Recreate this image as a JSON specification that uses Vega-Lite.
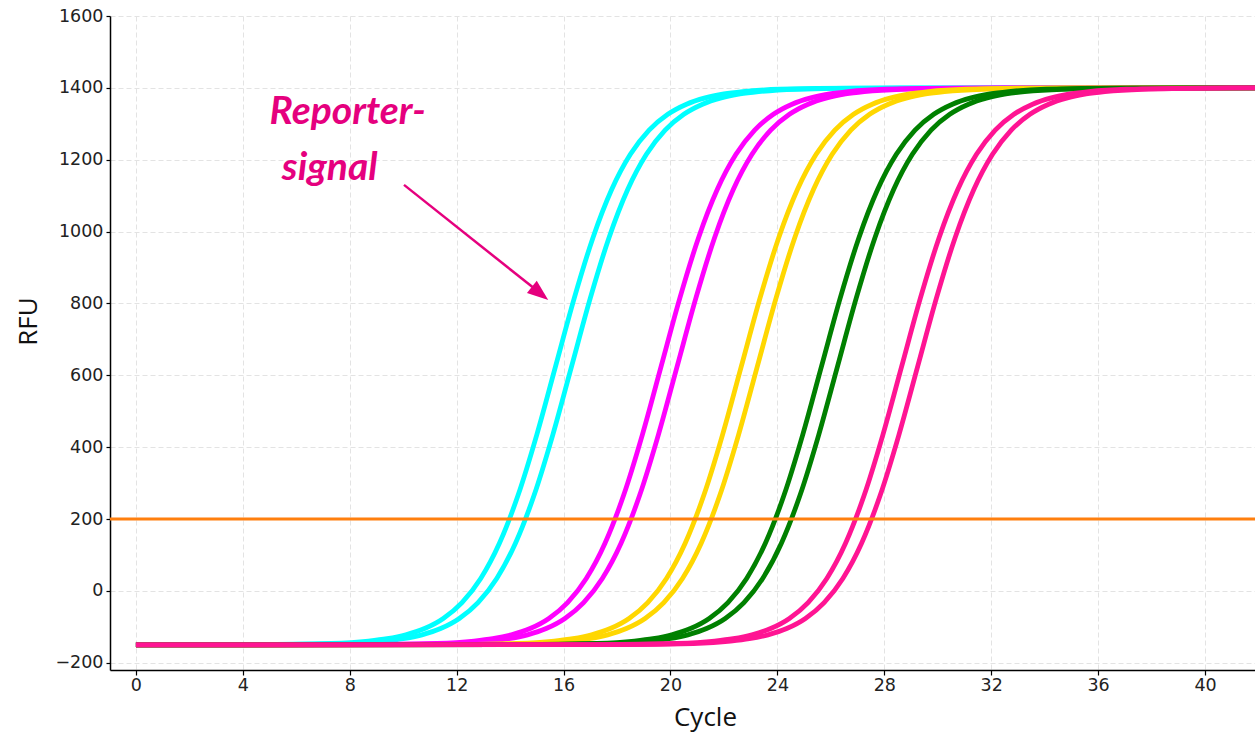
{
  "$schema": "https://vega.github.io/schema/vega-lite/v6.json",
  "width": 1145,
  "height": 654,
  "autosize": {"type": "none"},
  "padding": {"left": 110, "top": 16, "right": 0, "bottom": 65},
  "background": "white",
  "config": {
    "view": {"stroke": null},
    "axis": {
      "domainColor": "#000000",
      "domainWidth": 1.5,
      "tickColor": "#000000",
      "tickWidth": 1.2,
      "labelFont": "DejaVu Sans",
      "labelFontSize": 17.5,
      "labelColor": "#222222",
      "titleFont": "Open Sans",
      "titleFontSize": 26,
      "titleFontWeight": "normal",
      "titleColor": "#111111",
      "gridColor": "#e3e3e3",
      "gridDash": [5, 3],
      "gridWidth": 1
    }
  },
  "datasets": {
    "curves": [
      {"s":"s01","cycle":0,"rfu":-150},{"s":"s01","cycle":4.5,"rfu":-149.5},{"s":"s01","cycle":7.3,"rfu":-146.2},{"s":"s01","cycle":8.7,"rfu":-139.6},{"s":"s01","cycle":9.4,"rfu":-133},{"s":"s01","cycle":10.1,"rfu":-122.1},{"s":"s01","cycle":10.8,"rfu":-104.6},{"s":"s01","cycle":11.5,"rfu":-76.5},{"s":"s01","cycle":12.2,"rfu":-32.4},{"s":"s01","cycle":12.9,"rfu":34.8},{"s":"s01","cycle":13.6,"rfu":132.8},{"s":"s01","cycle":14.3,"rfu":266.9},{"s":"s01","cycle":15.0,"rfu":435.2},{"s":"s01","cycle":15.7,"rfu":625},{"s":"s01","cycle":16.4,"rfu":814.8},{"s":"s01","cycle":17.1,"rfu":983.1},{"s":"s01","cycle":17.8,"rfu":1117.2},{"s":"s01","cycle":18.5,"rfu":1215.2},{"s":"s01","cycle":19.2,"rfu":1282.4},{"s":"s01","cycle":19.9,"rfu":1326.5},{"s":"s01","cycle":20.6,"rfu":1354.6},{"s":"s01","cycle":21.3,"rfu":1372.1},{"s":"s01","cycle":22.0,"rfu":1383},{"s":"s01","cycle":22.7,"rfu":1389.6},{"s":"s01","cycle":24.1,"rfu":1396.2},{"s":"s01","cycle":26.9,"rfu":1399.5},{"s":"s01","cycle":42,"rfu":1400},
      {"s":"s02","cycle":0,"rfu":-150},{"s":"s02","cycle":5.1,"rfu":-149.5},{"s":"s02","cycle":7.9,"rfu":-146.2},{"s":"s02","cycle":9.3,"rfu":-139.6},{"s":"s02","cycle":10.0,"rfu":-133},{"s":"s02","cycle":10.7,"rfu":-122.1},{"s":"s02","cycle":11.4,"rfu":-104.6},{"s":"s02","cycle":12.1,"rfu":-76.5},{"s":"s02","cycle":12.8,"rfu":-32.4},{"s":"s02","cycle":13.5,"rfu":34.8},{"s":"s02","cycle":14.2,"rfu":132.8},{"s":"s02","cycle":14.9,"rfu":266.9},{"s":"s02","cycle":15.6,"rfu":435.2},{"s":"s02","cycle":16.3,"rfu":625},{"s":"s02","cycle":17.0,"rfu":814.8},{"s":"s02","cycle":17.7,"rfu":983.1},{"s":"s02","cycle":18.4,"rfu":1117.2},{"s":"s02","cycle":19.1,"rfu":1215.2},{"s":"s02","cycle":19.8,"rfu":1282.4},{"s":"s02","cycle":20.5,"rfu":1326.5},{"s":"s02","cycle":21.2,"rfu":1354.6},{"s":"s02","cycle":21.9,"rfu":1372.1},{"s":"s02","cycle":22.6,"rfu":1383},{"s":"s02","cycle":23.3,"rfu":1389.6},{"s":"s02","cycle":24.7,"rfu":1396.2},{"s":"s02","cycle":27.5,"rfu":1399.5},{"s":"s02","cycle":42,"rfu":1400},
      {"s":"s03","cycle":0,"rfu":-150},{"s":"s03","cycle":8.45,"rfu":-149.5},{"s":"s03","cycle":11.25,"rfu":-146.2},{"s":"s03","cycle":12.65,"rfu":-139.6},{"s":"s03","cycle":13.35,"rfu":-133},{"s":"s03","cycle":14.05,"rfu":-122.1},{"s":"s03","cycle":14.75,"rfu":-104.6},{"s":"s03","cycle":15.45,"rfu":-76.5},{"s":"s03","cycle":16.15,"rfu":-32.4},{"s":"s03","cycle":16.85,"rfu":34.8},{"s":"s03","cycle":17.55,"rfu":132.8},{"s":"s03","cycle":18.25,"rfu":266.9},{"s":"s03","cycle":18.95,"rfu":435.2},{"s":"s03","cycle":19.65,"rfu":625},{"s":"s03","cycle":20.35,"rfu":814.8},{"s":"s03","cycle":21.05,"rfu":983.1},{"s":"s03","cycle":21.75,"rfu":1117.2},{"s":"s03","cycle":22.45,"rfu":1215.2},{"s":"s03","cycle":23.15,"rfu":1282.4},{"s":"s03","cycle":23.85,"rfu":1326.5},{"s":"s03","cycle":24.55,"rfu":1354.6},{"s":"s03","cycle":25.25,"rfu":1372.1},{"s":"s03","cycle":25.95,"rfu":1383},{"s":"s03","cycle":26.65,"rfu":1389.6},{"s":"s03","cycle":28.05,"rfu":1396.2},{"s":"s03","cycle":30.85,"rfu":1399.5},{"s":"s03","cycle":42,"rfu":1400},
      {"s":"s04","cycle":0,"rfu":-150},{"s":"s04","cycle":9.05,"rfu":-149.5},{"s":"s04","cycle":11.85,"rfu":-146.2},{"s":"s04","cycle":13.25,"rfu":-139.6},{"s":"s04","cycle":13.95,"rfu":-133},{"s":"s04","cycle":14.65,"rfu":-122.1},{"s":"s04","cycle":15.35,"rfu":-104.6},{"s":"s04","cycle":16.05,"rfu":-76.5},{"s":"s04","cycle":16.75,"rfu":-32.4},{"s":"s04","cycle":17.45,"rfu":34.8},{"s":"s04","cycle":18.15,"rfu":132.8},{"s":"s04","cycle":18.85,"rfu":266.9},{"s":"s04","cycle":19.55,"rfu":435.2},{"s":"s04","cycle":20.25,"rfu":625},{"s":"s04","cycle":20.95,"rfu":814.8},{"s":"s04","cycle":21.65,"rfu":983.1},{"s":"s04","cycle":22.35,"rfu":1117.2},{"s":"s04","cycle":23.05,"rfu":1215.2},{"s":"s04","cycle":23.75,"rfu":1282.4},{"s":"s04","cycle":24.45,"rfu":1326.5},{"s":"s04","cycle":25.15,"rfu":1354.6},{"s":"s04","cycle":25.85,"rfu":1372.1},{"s":"s04","cycle":26.55,"rfu":1383},{"s":"s04","cycle":27.25,"rfu":1389.6},{"s":"s04","cycle":28.65,"rfu":1396.2},{"s":"s04","cycle":31.45,"rfu":1399.5},{"s":"s04","cycle":42,"rfu":1400},
      {"s":"s05","cycle":0,"rfu":-150},{"s":"s05","cycle":11.45,"rfu":-149.5},{"s":"s05","cycle":14.25,"rfu":-146.2},{"s":"s05","cycle":15.65,"rfu":-139.6},{"s":"s05","cycle":16.35,"rfu":-133},{"s":"s05","cycle":17.05,"rfu":-122.1},{"s":"s05","cycle":17.75,"rfu":-104.6},{"s":"s05","cycle":18.45,"rfu":-76.5},{"s":"s05","cycle":19.15,"rfu":-32.4},{"s":"s05","cycle":19.85,"rfu":34.8},{"s":"s05","cycle":20.55,"rfu":132.8},{"s":"s05","cycle":21.25,"rfu":266.9},{"s":"s05","cycle":21.95,"rfu":435.2},{"s":"s05","cycle":22.65,"rfu":625},{"s":"s05","cycle":23.35,"rfu":814.8},{"s":"s05","cycle":24.05,"rfu":983.1},{"s":"s05","cycle":24.75,"rfu":1117.2},{"s":"s05","cycle":25.45,"rfu":1215.2},{"s":"s05","cycle":26.15,"rfu":1282.4},{"s":"s05","cycle":26.85,"rfu":1326.5},{"s":"s05","cycle":27.55,"rfu":1354.6},{"s":"s05","cycle":28.25,"rfu":1372.1},{"s":"s05","cycle":28.95,"rfu":1383},{"s":"s05","cycle":29.65,"rfu":1389.6},{"s":"s05","cycle":31.05,"rfu":1396.2},{"s":"s05","cycle":33.85,"rfu":1399.5},{"s":"s05","cycle":42,"rfu":1400},
      {"s":"s06","cycle":0,"rfu":-150},{"s":"s06","cycle":12.05,"rfu":-149.5},{"s":"s06","cycle":14.85,"rfu":-146.2},{"s":"s06","cycle":16.25,"rfu":-139.6},{"s":"s06","cycle":16.95,"rfu":-133},{"s":"s06","cycle":17.65,"rfu":-122.1},{"s":"s06","cycle":18.35,"rfu":-104.6},{"s":"s06","cycle":19.05,"rfu":-76.5},{"s":"s06","cycle":19.75,"rfu":-32.4},{"s":"s06","cycle":20.45,"rfu":34.8},{"s":"s06","cycle":21.15,"rfu":132.8},{"s":"s06","cycle":21.85,"rfu":266.9},{"s":"s06","cycle":22.55,"rfu":435.2},{"s":"s06","cycle":23.25,"rfu":625},{"s":"s06","cycle":23.95,"rfu":814.8},{"s":"s06","cycle":24.65,"rfu":983.1},{"s":"s06","cycle":25.35,"rfu":1117.2},{"s":"s06","cycle":26.05,"rfu":1215.2},{"s":"s06","cycle":26.75,"rfu":1282.4},{"s":"s06","cycle":27.45,"rfu":1326.5},{"s":"s06","cycle":28.15,"rfu":1354.6},{"s":"s06","cycle":28.85,"rfu":1372.1},{"s":"s06","cycle":29.55,"rfu":1383},{"s":"s06","cycle":30.25,"rfu":1389.6},{"s":"s06","cycle":31.65,"rfu":1396.2},{"s":"s06","cycle":34.45,"rfu":1399.5},{"s":"s06","cycle":42,"rfu":1400},
      {"s":"s07","cycle":0,"rfu":-150},{"s":"s07","cycle":14.45,"rfu":-149.5},{"s":"s07","cycle":17.25,"rfu":-146.2},{"s":"s07","cycle":18.65,"rfu":-139.6},{"s":"s07","cycle":19.35,"rfu":-133},{"s":"s07","cycle":20.05,"rfu":-122.1},{"s":"s07","cycle":20.75,"rfu":-104.6},{"s":"s07","cycle":21.45,"rfu":-76.5},{"s":"s07","cycle":22.15,"rfu":-32.4},{"s":"s07","cycle":22.85,"rfu":34.8},{"s":"s07","cycle":23.55,"rfu":132.8},{"s":"s07","cycle":24.25,"rfu":266.9},{"s":"s07","cycle":24.95,"rfu":435.2},{"s":"s07","cycle":25.65,"rfu":625},{"s":"s07","cycle":26.35,"rfu":814.8},{"s":"s07","cycle":27.05,"rfu":983.1},{"s":"s07","cycle":27.75,"rfu":1117.2},{"s":"s07","cycle":28.45,"rfu":1215.2},{"s":"s07","cycle":29.15,"rfu":1282.4},{"s":"s07","cycle":29.85,"rfu":1326.5},{"s":"s07","cycle":30.55,"rfu":1354.6},{"s":"s07","cycle":31.25,"rfu":1372.1},{"s":"s07","cycle":31.95,"rfu":1383},{"s":"s07","cycle":32.65,"rfu":1389.6},{"s":"s07","cycle":34.05,"rfu":1396.2},{"s":"s07","cycle":36.85,"rfu":1399.5},{"s":"s07","cycle":42,"rfu":1400},
      {"s":"s08","cycle":0,"rfu":-150},{"s":"s08","cycle":15.05,"rfu":-149.5},{"s":"s08","cycle":17.85,"rfu":-146.2},{"s":"s08","cycle":19.25,"rfu":-139.6},{"s":"s08","cycle":19.95,"rfu":-133},{"s":"s08","cycle":20.65,"rfu":-122.1},{"s":"s08","cycle":21.35,"rfu":-104.6},{"s":"s08","cycle":22.05,"rfu":-76.5},{"s":"s08","cycle":22.75,"rfu":-32.4},{"s":"s08","cycle":23.45,"rfu":34.8},{"s":"s08","cycle":24.15,"rfu":132.8},{"s":"s08","cycle":24.85,"rfu":266.9},{"s":"s08","cycle":25.55,"rfu":435.2},{"s":"s08","cycle":26.25,"rfu":625},{"s":"s08","cycle":26.95,"rfu":814.8},{"s":"s08","cycle":27.65,"rfu":983.1},{"s":"s08","cycle":28.35,"rfu":1117.2},{"s":"s08","cycle":29.05,"rfu":1215.2},{"s":"s08","cycle":29.75,"rfu":1282.4},{"s":"s08","cycle":30.45,"rfu":1326.5},{"s":"s08","cycle":31.15,"rfu":1354.6},{"s":"s08","cycle":31.85,"rfu":1372.1},{"s":"s08","cycle":32.55,"rfu":1383},{"s":"s08","cycle":33.25,"rfu":1389.6},{"s":"s08","cycle":34.65,"rfu":1396.2},{"s":"s08","cycle":37.45,"rfu":1399.5},{"s":"s08","cycle":42,"rfu":1400},
      {"s":"s09","cycle":0,"rfu":-150},{"s":"s09","cycle":17.45,"rfu":-149.5},{"s":"s09","cycle":20.25,"rfu":-146.2},{"s":"s09","cycle":21.65,"rfu":-139.6},{"s":"s09","cycle":22.35,"rfu":-133},{"s":"s09","cycle":23.05,"rfu":-122.1},{"s":"s09","cycle":23.75,"rfu":-104.6},{"s":"s09","cycle":24.45,"rfu":-76.5},{"s":"s09","cycle":25.15,"rfu":-32.4},{"s":"s09","cycle":25.85,"rfu":34.8},{"s":"s09","cycle":26.55,"rfu":132.8},{"s":"s09","cycle":27.25,"rfu":266.9},{"s":"s09","cycle":27.95,"rfu":435.2},{"s":"s09","cycle":28.65,"rfu":625},{"s":"s09","cycle":29.35,"rfu":814.8},{"s":"s09","cycle":30.05,"rfu":983.1},{"s":"s09","cycle":30.75,"rfu":1117.2},{"s":"s09","cycle":31.45,"rfu":1215.2},{"s":"s09","cycle":32.15,"rfu":1282.4},{"s":"s09","cycle":32.85,"rfu":1326.5},{"s":"s09","cycle":33.55,"rfu":1354.6},{"s":"s09","cycle":34.25,"rfu":1372.1},{"s":"s09","cycle":34.95,"rfu":1383},{"s":"s09","cycle":35.65,"rfu":1389.6},{"s":"s09","cycle":37.05,"rfu":1396.2},{"s":"s09","cycle":39.85,"rfu":1399.5},{"s":"s09","cycle":42,"rfu":1400},
      {"s":"s10","cycle":0,"rfu":-150},{"s":"s10","cycle":18.05,"rfu":-149.5},{"s":"s10","cycle":20.85,"rfu":-146.2},{"s":"s10","cycle":22.25,"rfu":-139.6},{"s":"s10","cycle":22.95,"rfu":-133},{"s":"s10","cycle":23.65,"rfu":-122.1},{"s":"s10","cycle":24.35,"rfu":-104.6},{"s":"s10","cycle":25.05,"rfu":-76.5},{"s":"s10","cycle":25.75,"rfu":-32.4},{"s":"s10","cycle":26.45,"rfu":34.8},{"s":"s10","cycle":27.15,"rfu":132.8},{"s":"s10","cycle":27.85,"rfu":266.9},{"s":"s10","cycle":28.55,"rfu":435.2},{"s":"s10","cycle":29.25,"rfu":625},{"s":"s10","cycle":29.95,"rfu":814.8},{"s":"s10","cycle":30.65,"rfu":983.1},{"s":"s10","cycle":31.35,"rfu":1117.2},{"s":"s10","cycle":32.05,"rfu":1215.2},{"s":"s10","cycle":32.75,"rfu":1282.4},{"s":"s10","cycle":33.45,"rfu":1326.5},{"s":"s10","cycle":34.15,"rfu":1354.6},{"s":"s10","cycle":34.85,"rfu":1372.1},{"s":"s10","cycle":35.55,"rfu":1383},{"s":"s10","cycle":36.25,"rfu":1389.6},{"s":"s10","cycle":37.65,"rfu":1396.2},{"s":"s10","cycle":40.45,"rfu":1399.5},{"s":"s10","cycle":42,"rfu":1400}
    ],
    "threshold": [{"rfu": 200}],
    "arrow": [{"cycle": 10.03, "rfu": 1130, "cycle_end": 14.85, "rfu_end": 845}],
    "arrowhead": [{"cycle": 15.12, "rfu": 828}],
    "note": [
      {"cycle": 5.0, "rfu": 1300, "label": "Reporter-"},
      {"cycle": 5.46, "rfu": 1144, "label": "signal"}
    ]
  },
  "layer": [
    {
      "data": {"name": "curves"},
      "mark": {"type": "line", "interpolate": "monotone", "strokeWidth": 4.8, "clip": true},
      "encoding": {
        "x": {
          "field": "cycle", "type": "quantitative",
          "scale": {"domain": [-0.97, 41.87], "nice": false, "zero": false},
          "axis": {
            "title": "Cycle",
            "values": [0, 4, 8, 12, 16, 20, 24, 28, 32, 36, 40],
            "format": "d",
            "tickSize": 5, "labelPadding": 1, "labelFlush": false,
            "titleX": 595, "titleY": 47, "titleAlign": "center", "titleBaseline": "middle"
          }
        },
        "y": {
          "field": "rfu", "type": "quantitative",
          "scale": {"domain": [-220, 1600], "nice": false, "zero": false},
          "axis": {
            "title": "RFU",
            "values": [-200, 0, 200, 400, 600, 800, 1000, 1200, 1400, 1600],
            "format": "d",
            "tickSize": 4, "labelPadding": 3,
            "titleX": -82, "titleY": 305, "titleAlign": "center", "titleBaseline": "middle", "titleAngle": -90
          }
        },
        "color": {
          "field": "s", "type": "nominal", "legend": null,
          "scale": {
            "domain": ["s01","s02","s03","s04","s05","s06","s07","s08","s09","s10"],
            "range": ["#00ffff","#00ffff","#ff00ff","#ff00ff","#ffd700","#ffd700","#008000","#008000","#ff1493","#ff1493"]
          }
        },
        "order": {"field": "cycle", "type": "quantitative"}
      }
    },
    {
      "data": {"name": "threshold"},
      "mark": {"type": "rule", "color": "#ff7f0e", "strokeWidth": 3},
      "encoding": {
        "y": {"field": "rfu", "type": "quantitative", "axis": {"title": "RFU"}}
      }
    },
    {
      "data": {"name": "arrow"},
      "mark": {"type": "rule", "color": "#e5007e", "strokeWidth": 2.5},
      "encoding": {
        "x": {"field": "cycle", "type": "quantitative", "axis": {"title": "Cycle"}},
        "y": {"field": "rfu", "type": "quantitative", "axis": {"title": "RFU"}},
        "x2": {"field": "cycle_end"},
        "y2": {"field": "rfu_end"}
      }
    },
    {
      "data": {"name": "arrowhead"},
      "mark": {"type": "point", "shape": "M -1 -0.75 L 1 0 L -1 0.75 Z", "size": 440, "angle": 38.5, "filled": true, "color": "#e5007e", "opacity": 1, "strokeWidth": 0},
      "encoding": {
        "x": {"field": "cycle", "type": "quantitative", "axis": {"title": "Cycle"}},
        "y": {"field": "rfu", "type": "quantitative", "axis": {"title": "RFU"}}
      }
    },
    {
      "data": {"name": "note"},
      "mark": {"type": "text", "align": "left", "baseline": "alphabetic", "font": "Lato", "fontStyle": "italic", "fontWeight": "bold", "fontSize": 39, "color": "#e5007e"},
      "encoding": {
        "x": {"field": "cycle", "type": "quantitative", "axis": {"title": "Cycle"}},
        "y": {"field": "rfu", "type": "quantitative", "axis": {"title": "RFU"}},
        "text": {"field": "label"}
      }
    }
  ]
}
